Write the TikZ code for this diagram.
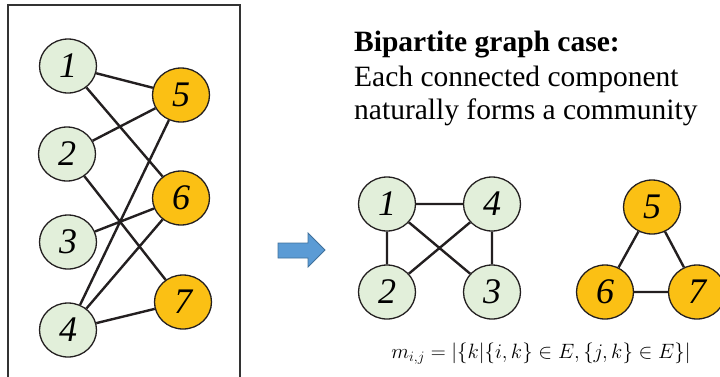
\documentclass[tikz,border=0pt]{standalone}
\usepackage{fontspec}
\setmainfont{Liberation Serif}
\usetikzlibrary{shapes.geometric}
\definecolor{gfill}{HTML}{E2EFDA}
\definecolor{ofill}{HTML}{FBC014}
\definecolor{edgec}{HTML}{231F20}
\definecolor{arrowc}{HTML}{5B9BD5}
\definecolor{arrowd}{HTML}{41719C}
\tikzset{
  vtx/.style={ellipse, draw=edgec, line width=1.3pt, minimum width=57pt, minimum height=54pt, inner sep=0pt,
    font=\fontsize{36}{36}\selectfont\itshape},
  gv/.style={vtx, fill=gfill},
  ov/.style={vtx, fill=ofill},
  ed/.style={draw=edgec, line width=2.4pt},
  txt/.style={anchor=west, inner sep=0pt, font=\fontsize{29.5}{29.5}\selectfont}
}
\begin{document}
\begin{tikzpicture}[x=1pt,y=-1pt]
\useasboundingbox (0,0) rectangle (720,376);
\draw[line width=1.2pt, draw=black!80] (8,380) -- (8,5) -- (240,5) -- (240,380);
% left bipartite graph
\node[gv] (l1) at (68,66) {1};
\node[gv] (l2) at (67,154) {2};
\node[gv] (l3) at (68,242) {3};
\node[gv] (l4) at (68,330) {4};
\node[ov] (l5) at (181,95) {5};
\node[ov] (l6) at (181,198) {6};
\node[ov] (l7) at (183,302) {7};
\path[ed] (l1) -- (l5) (l1) -- (l6) (l2) -- (l5) (l2) -- (l7) (l3) -- (l6) (l4) -- (l5) (l4) -- (l6) (l4) -- (l7);
% arrow
\draw[draw=arrowd, fill=arrowc, line width=0.8pt] (278,243) -- (308,243) -- (308,233) -- (325,250) -- (308,267) -- (308,258) -- (278,258) -- cycle;
% text
\node[txt, font=\fontsize{29.5}{29.5}\selectfont\bfseries] (t1) at (354,45) {Bipartite graph case:};
\node[txt] (t2) at (354,79) {Each connected component};
\node[txt] (t3) at (354,112) {naturally forms a community};
% right graphs
\node[gv] (r1) at (387,204) {1};
\node[gv] (r4) at (492,204) {4};
\node[gv] (r2) at (387,292) {2};
\node[gv] (r3) at (492,292) {3};
\node[ov] (r5) at (652,207) {5};
\node[ov] (r6) at (605,292) {6};
\node[ov] (r7) at (697,292) {7};
\path[ed] (r1) -- (r4) (r1) -- (r2) (r1) -- (r3) (r4) -- (r2) (r4) -- (r3) (r5) -- (r6) (r5) -- (r7) (r6) -- (r7);
\node[font=\fontsize{22.5}{22.5}\selectfont] (f) at (541,354) {$m_{i,j}=|\{k|\{i,k\}\in E,\{j,k\}\in E\}|$};
\end{tikzpicture}
\end{document}
